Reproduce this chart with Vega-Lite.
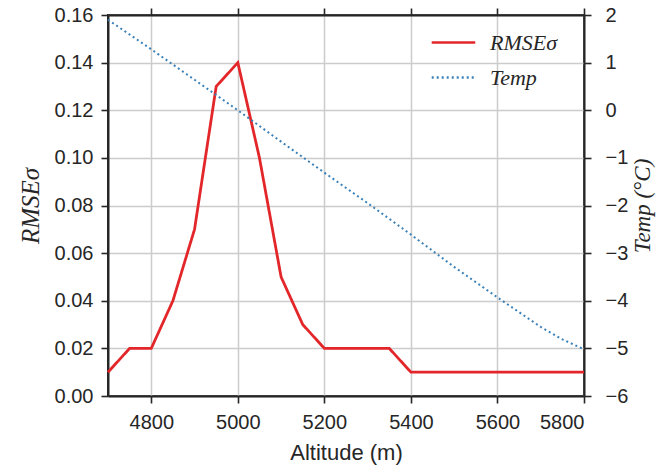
{
  "$schema": "https://vega.github.io/schema/vega-lite/v6.json",
  "width": 476,
  "height": 381,
  "autosize": {"type": "none"},
  "padding": {"left": 108, "top": 15, "right": 83, "bottom": 70},
  "background": "white",
  "config": {
    "font": "Liberation Sans",
    "view": {"stroke": "#262626", "strokeWidth": 2},
    "axis": {
      "domainColor": "#262626",
      "domainWidth": 2,
      "tickColor": "#262626",
      "tickWidth": 1.6,
      "tickSize": 7,
      "gridColor": "#cccccc",
      "gridWidth": 1.5,
      "labelColor": "#262626",
      "labelFontSize": 20,
      "labelFont": "Liberation Sans",
      "titleColor": "#262626",
      "titleFontSize": 22,
      "titleFontWeight": "normal"
    },
    "legend": {
      "labelFont": "Liberation Serif",
      "labelFontStyle": "italic",
      "labelFontSize": 22,
      "labelColor": "#262626"
    }
  },
  "data": {
    "values": [
      {"alt": 4700, "series": "RMSEσ", "value": 0.01},
      {"alt": 4750, "series": "RMSEσ", "value": 0.02},
      {"alt": 4800, "series": "RMSEσ", "value": 0.02},
      {"alt": 4850, "series": "RMSEσ", "value": 0.04},
      {"alt": 4900, "series": "RMSEσ", "value": 0.07},
      {"alt": 4950, "series": "RMSEσ", "value": 0.13},
      {"alt": 5000, "series": "RMSEσ", "value": 0.14},
      {"alt": 5050, "series": "RMSEσ", "value": 0.10},
      {"alt": 5100, "series": "RMSEσ", "value": 0.05},
      {"alt": 5150, "series": "RMSEσ", "value": 0.03},
      {"alt": 5200, "series": "RMSEσ", "value": 0.02},
      {"alt": 5250, "series": "RMSEσ", "value": 0.02},
      {"alt": 5300, "series": "RMSEσ", "value": 0.02},
      {"alt": 5350, "series": "RMSEσ", "value": 0.02},
      {"alt": 5400, "series": "RMSEσ", "value": 0.01},
      {"alt": 5450, "series": "RMSEσ", "value": 0.01},
      {"alt": 5500, "series": "RMSEσ", "value": 0.01},
      {"alt": 5550, "series": "RMSEσ", "value": 0.01},
      {"alt": 5600, "series": "RMSEσ", "value": 0.01},
      {"alt": 5650, "series": "RMSEσ", "value": 0.01},
      {"alt": 5700, "series": "RMSEσ", "value": 0.01},
      {"alt": 5750, "series": "RMSEσ", "value": 0.01},
      {"alt": 5800, "series": "RMSEσ", "value": 0.01},
      {"alt": 4700, "series": "Temp", "value": 1.9},
      {"alt": 4800, "series": "Temp", "value": 1.28},
      {"alt": 4900, "series": "Temp", "value": 0.64},
      {"alt": 5000, "series": "Temp", "value": 0.0},
      {"alt": 5100, "series": "Temp", "value": -0.66},
      {"alt": 5200, "series": "Temp", "value": -1.31},
      {"alt": 5300, "series": "Temp", "value": -1.95},
      {"alt": 5400, "series": "Temp", "value": -2.61},
      {"alt": 5500, "series": "Temp", "value": -3.29},
      {"alt": 5600, "series": "Temp", "value": -3.93},
      {"alt": 5700, "series": "Temp", "value": -4.55},
      {"alt": 5750, "series": "Temp", "value": -4.81},
      {"alt": 5800, "series": "Temp", "value": -5.02}
    ]
  },
  "layer": [
    {
      "transform": [{"filter": "datum.series == 'RMSEσ'"}],
      "mark": {"type": "line", "strokeWidth": 2.8},
      "encoding": {
        "x": {
          "field": "alt", "type": "quantitative",
          "scale": {"domain": [4700, 5800], "nice": false, "zero": false},
          "axis": {"orient": "bottom", "title": "Altitude (m)", "format": "d", "values": [4800, 5000, 5200, 5400, 5600, 5800], "grid": true, "labelPadding": 9, "titlePadding": 10}
        },
        "y": {
          "field": "value", "type": "quantitative",
          "scale": {"domain": [0, 0.16], "nice": false, "zero": false},
          "axis": {"orient": "left", "title": "RMSEσ", "values": [0, 0.02, 0.04, 0.06, 0.08, 0.1, 0.12, 0.14, 0.16], "format": ".2f", "grid": true, "labelPadding": 8, "titleFont": "Liberation Serif", "titleFontStyle": "italic", "titleFontSize": 25, "titlePadding": 11}
        },
        "color": {
          "field": "series", "type": "nominal",
          "scale": {"domain": ["RMSEσ", "Temp"], "range": ["#e3262a", "#3a80b9"]},
          "legend": {"title": null, "orient": "none", "legendX": 322, "legendY": 4, "symbolType": "stroke", "symbolSize": 1900, "symbolStrokeWidth": 2.6, "labelOffset": 13, "rowPadding": -12}
        },
        "strokeDash": {
          "field": "series", "type": "nominal",
          "scale": {"domain": ["RMSEσ", "Temp"], "range": [[1, 0], [2, 3]]},
          "legend": {"title": null, "orient": "none", "legendX": 322, "legendY": 4, "symbolType": "stroke", "symbolSize": 1900, "symbolStrokeWidth": 2.6, "labelOffset": 13, "rowPadding": -12}
        }
      }
    },
    {
      "transform": [{"filter": "datum.series == 'Temp'"}],
      "mark": {"type": "line", "strokeWidth": 2},
      "encoding": {
        "x": {
          "field": "alt", "type": "quantitative",
          "scale": {"domain": [4700, 5800], "nice": false, "zero": false},
          "axis": {"orient": "top", "title": null, "labels": false, "values": [4800, 5000, 5200, 5400, 5600, 5800], "grid": false}
        },
        "y": {
          "field": "value", "type": "quantitative",
          "scale": {"domain": [-6, 2], "nice": false, "zero": false},
          "axis": {"orient": "right", "title": "Temp (°C)", "values": [-6, -5, -4, -3, -2, -1, 0, 1, 2], "grid": false, "labelPadding": 14, "titleFont": "Liberation Serif", "titleFontStyle": "italic", "titleFontSize": 23, "titleAngle": 270, "titleBaseline": "top", "titlePadding": 4}
        },
        "color": {"field": "series", "type": "nominal"},
        "strokeDash": {"field": "series", "type": "nominal"}
      }
    }
  ],
  "resolve": {"scale": {"y": "independent"}, "axis": {"x": "independent"}}
}
